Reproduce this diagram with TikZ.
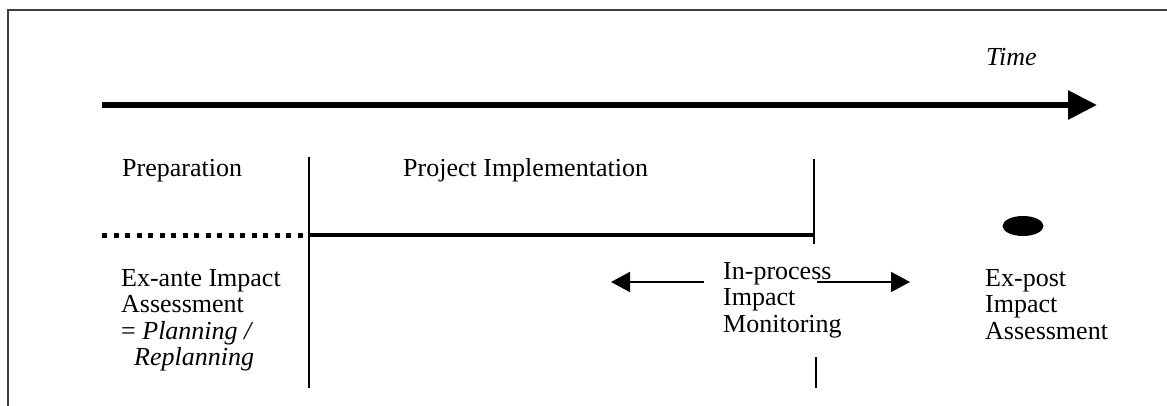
\documentclass[tikz,border=0pt]{standalone}
\usepackage{fontspec}
\setmainfont{Liberation Serif}
\usetikzlibrary{arrows.meta,shapes.geometric}
\begin{document}
\begin{tikzpicture}[x=1pt,y=-1pt,
  lbl/.style={font=\fontsize{26}{26.5}\selectfont, inner sep=0pt, anchor=base west, align=left},
  frameline/.style={line width=1.5pt, black!75},
  thinline/.style={line width=1.6pt},
  smallarrow/.style={line width=1.6pt, -{Triangle[length=19pt,width=20pt]}}]
\useasboundingbox (0,0) rectangle (1167,406);
% frame
\coordinate (fbl) at (8,406);
\coordinate (ftl) at (8,10);
\coordinate (ftr) at (1167,10);
\draw[frameline] (fbl) -- (ftl) -- (ftr);
% time axis
\coordinate (t0) at (102,105);
\coordinate (t1) at (1097,105);
\draw[line width=6pt, -{Triangle[length=29pt,width=28pt]}] (t0) -- (t1);
\node[lbl, font=\fontsize{26}{26.5}\selectfont\itshape] (time) at (986,66) {Time};
% phase labels
\node[lbl] (prep) at (122,177) {Preparation};
\node[lbl] (impl) at (403,177) {Project Implementation};
% vertical separators
\coordinate (v1a) at (309,157);
\coordinate (v1m) at (309,235);
\coordinate (v1b) at (309,388);
\draw[thinline] (v1a) -- (v1b);
\coordinate (v2a) at (814,159);
\coordinate (v2m) at (814,235);
\coordinate (v2b) at (814,244);
\draw[thinline] (v2a) -- (v2b);
\coordinate (v3a) at (816,357);
\coordinate (v3b) at (816,388);
\draw[thinline] (v3a) -- (v3b);
% dotted and solid lines
\coordinate (d0) at (102,235);
\draw[line width=5pt, dash pattern=on 5pt off 6.5pt] (d0) -- (v1m);
\draw[line width=4pt] (v1m) -- (v2m);
% ex-post dot
\node[ellipse, fill=black, minimum width=41pt, minimum height=20pt, inner sep=0pt] (dot) at (1023,226) {};
% texts (base anchor = baseline of last line)
\node[lbl] (exante) at (121,365.5) {Ex-ante Impact\\Assessment\\= \textit{Planning /}\\\hspace*{13pt}\textit{Replanning}};
\node[lbl] (inproc) at (723,332) {In-process\\Impact\\Monitoring};
\node[lbl] (expost) at (985,339) {Ex-post\\Impact\\Assessment};
% monitoring arrows
\coordinate (la0) at (704,282);
\coordinate (la1) at (611,282);
\coordinate (ra0) at (817,282);
\coordinate (ra1) at (910,282);
\draw[smallarrow] (la0) -- (la1);
\draw[smallarrow] (ra0) -- (ra1);
\end{tikzpicture}
\end{document}
